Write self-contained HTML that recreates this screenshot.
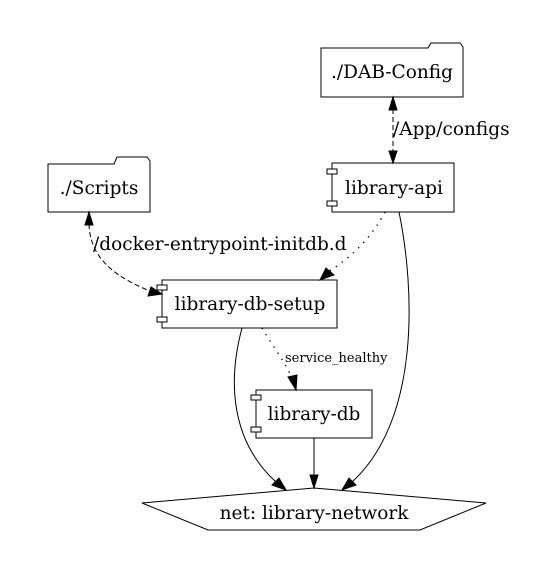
<!DOCTYPE html>
<html><head><style>body{margin:0;background:#fff}svg{display:block}text{font-family:"DejaVu Serif","Liberation Serif",serif}</style></head><body>
<svg width="558" height="584" viewBox="0 0 558 584" xmlns="http://www.w3.org/2000/svg">
<rect width="558" height="584" fill="#fff"/>
<g fill="#fff" stroke="#000" stroke-width="1">
<path d="M321,48 H428 L431,43 H460 L463,47 V97 H321 Z"/>
<path d="M48,164 H114 L117,157 H147 L150,161 V212 H48 Z"/>
<rect x="332" y="163" width="122" height="49"/>
<rect x="327" y="169" width="10" height="5"/>
<rect x="327" y="201" width="10" height="5"/>
<rect x="162" y="280" width="175" height="48"/>
<rect x="157" y="285" width="10" height="5"/>
<rect x="157" y="317" width="10" height="5"/>
<rect x="256" y="390" width="116" height="48"/>
<rect x="251" y="395" width="10" height="5"/>
<rect x="251" y="427" width="10" height="5"/>
<polygon points="142,503 314,488 486,503 420,530 208,530"/>
</g>
<g fill="none" stroke="#000" stroke-width="1">
<path d="M393,109 V152" stroke-dasharray="5,3"/>
<path d="M89,224 C90,255 110,275 150,291" stroke-dasharray="5,3"/>
<path d="M385,212 C370,240 350,258 328,272" stroke-dasharray="1.3,6" stroke-width="1.4"/>
<path d="M262,328 C272,345 285,362 292,378" stroke-dasharray="1.3,6" stroke-width="1.4"/>
<path d="M242,328 C228,380 230,440 276,482"/>
<path d="M399,212 C415,290 420,420 352,482"/>
<path d="M314,438 V475"/>
</g>
<g fill="#000" stroke="#000">
<polygon points="393,97 389,110 397,110"/>
<polygon points="393,163 389,151 397,151"/>
<polygon points="89,212 85,225 93,225"/>
<polygon points="162,294 148,296 151,287"/>
<polygon points="320,280 326,268 334,275"/>
<polygon points="296,390 288,377 297,375"/>
<polygon points="286,490 272,485 279,478"/>
<polygon points="342,490 349,478 356,485"/>
<polygon points="314,488 310,475 318,475"/>
</g>
<g font-size="18.5" text-anchor="middle" fill="#000">
<text x="392" y="78">./DAB-Config</text>
<text x="99" y="194">./Scripts</text>
<text x="394" y="194">library-api</text>
<text x="250" y="310">library-db-setup</text>
<text x="314" y="420">library-db</text>
<text x="314" y="519">net: library-network</text>
<text x="393" y="135" text-anchor="start">/App/configs</text>
<text x="93" y="250" text-anchor="start">/docker-entrypoint-initdb.d</text>
<text x="285" y="362" font-size="13" text-anchor="start">service_healthy</text>
</g>
</svg>
</body></html>
